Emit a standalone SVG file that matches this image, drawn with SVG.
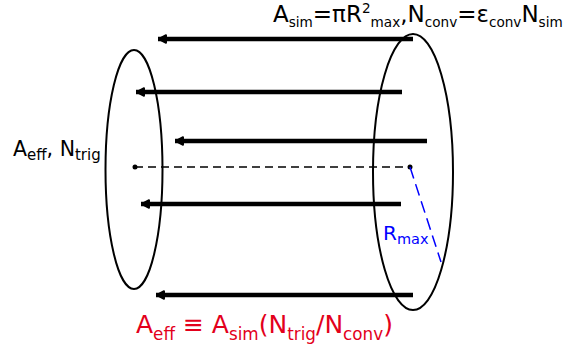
<svg xmlns="http://www.w3.org/2000/svg" width="563" height="356" viewBox="0 0 563 356">
<defs>
<marker id="ah" viewBox="0 0 10 10" refX="0.5" refY="5" markerWidth="2.1" markerHeight="2.1" orient="auto" markerUnits="strokeWidth">
<path d="M1,5 L9,1 L9,9 Z" fill="#000" stroke="#000" stroke-width="2" stroke-linejoin="round"/>
</marker>
</defs>
<style>
.ell{fill:none;stroke:#000;stroke-width:2}
.ray{stroke:#000;stroke-width:4.5;fill:none;marker-start:url(#ah)}
.t{font-family:"DejaVu Sans",sans-serif;fill:#000}
.sub{font-size:13.6px}
</style>
<rect width="563" height="356" fill="#fff"/>
<g id="left-disc"><ellipse class="ell" cx="134" cy="169.5" rx="28.5" ry="119.5"/></g>
<g id="right-disc"><ellipse class="ell" cx="413" cy="172" rx="40" ry="138"/></g>
<g id="connectors">
<line class="ray" x1="158" y1="39" x2="413" y2="39"/>
<line class="ray" x1="136" y1="92" x2="402" y2="92"/>
<line class="ray" x1="175" y1="141" x2="427" y2="141"/>
<line class="ray" x1="141" y1="204" x2="401" y2="204"/>
<line class="ray" x1="156" y1="295" x2="413" y2="295"/>
<line x1="135" y1="167" x2="410" y2="167" stroke="#000" stroke-width="1.3" stroke-dasharray="8,5"/>
<circle cx="135" cy="167" r="2.5" fill="#000"/>
<circle cx="410" cy="167" r="2.5" fill="#000"/>
<line x1="410" y1="167" x2="441" y2="262" stroke="#0000ff" stroke-width="1.5" stroke-dasharray="12,6"/>
</g>
<g id="top-label">
<text class="t" x="273" y="22" font-size="23">A<tspan class="sub" dy="5">sim</tspan><tspan dy="-5">=πR</tspan><tspan class="sub" dy="-9">2</tspan><tspan class="sub" dy="14">max</tspan><tspan dy="-5">,N</tspan><tspan class="sub" dy="5">conv</tspan><tspan dy="-5">=ε</tspan><tspan class="sub" dy="5">conv</tspan><tspan dy="-5">N</tspan><tspan class="sub" dy="5">sim</tspan></text>
</g>
<g id="left-label">
<text class="t" x="13" y="156" font-size="20.5">A<tspan font-size="15" dy="4">eff</tspan><tspan dy="-4">, N</tspan><tspan font-size="15" dy="4">trig</tspan></text>
</g>
<g id="rmax-label">
<text x="383" y="240" font-family="DejaVu Sans,sans-serif" font-size="20" fill="#0000ff">R<tspan font-size="14.5" dy="4">max</tspan></text>
</g>
<g id="formula">
<text x="136" y="333" font-family="DejaVu Sans,sans-serif" font-size="25" fill="#e3001b">A<tspan font-size="16.8" dy="7">eff</tspan><tspan dy="-7"> ≡ A</tspan><tspan font-size="16.8" dy="7">sim</tspan><tspan dy="-7">(N</tspan><tspan font-size="16.8" dy="7">trig</tspan><tspan dy="-7">/N</tspan><tspan font-size="16.8" dy="7">conv</tspan><tspan dy="-7">)</tspan></text>
</g>
</svg>
